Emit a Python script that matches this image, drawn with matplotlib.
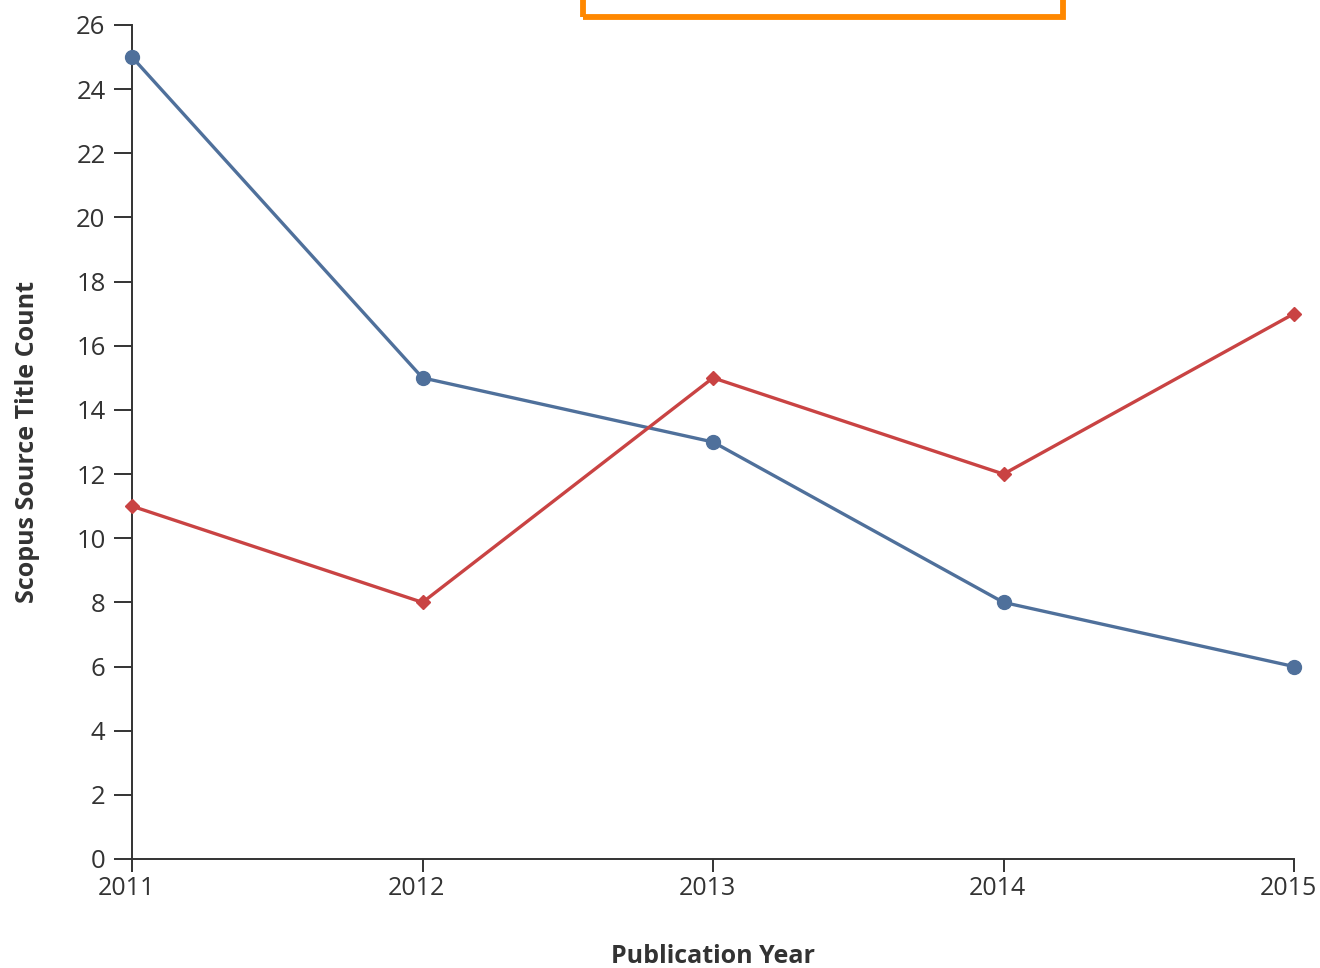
import matplotlib
matplotlib.use("Agg")
import matplotlib.pyplot as plt
import matplotlib.transforms as mtransforms
from matplotlib.patches import Rectangle

years = [2011, 2012, 2013, 2014, 2015]
blue_counts = [25, 15, 13, 8, 6]
red_counts = [11, 8, 15, 12, 17]
y_ticks = list(range(0, 27, 2))

plt.rcParams['font.family'] = ['Open Sans', 'DejaVu Sans']

W, H = 1320, 968
fig = plt.figure(figsize=(W / 100, H / 100), dpi=100)
ax = fig.add_axes([132 / W, 1 - 859 / H, (1294 - 132) / W, (859 - 25) / H])

ax.plot(years, blue_counts, color='#4f709b', lw=2.4, marker='o', ms=10,
        clip_on=False, zorder=3)
ax.plot(years, red_counts, color='#c94343', lw=2.4, marker='D', ms=7,
        clip_on=False, zorder=3)

ax.set_xlim(2011, 2015)
ax.set_ylim(0, 26)
ax.set_xticks(years)
ax.set_xticklabels([str(y) for y in years])
ax.set_yticks(y_ticks)

for s in ['top', 'right']:
    ax.spines[s].set_visible(False)
for s in ['left', 'bottom']:
    ax.spines[s].set_color('#333333')
    ax.spines[s].set_linewidth(1.4)

ax.tick_params(axis='y', length=13, width=1.4, color='#333333', pad=6,
               labelsize=18.5, labelcolor='#333333')
ax.tick_params(axis='x', length=9, width=1.4, color='#333333', pad=3,
               labelsize=18, labelcolor='#333333')

# x labels sit a little left of their ticks in the reference
shift = mtransforms.ScaledTranslation(-6 / 100, 0, fig.dpi_scale_trans)
for lab in ax.get_xticklabels():
    lab.set_transform(lab.get_transform() + shift)

ax.set_xlabel('Publication Year', fontsize=18, fontweight='bold',
              color='#333333', labelpad=31)
ax.set_ylabel('Scopus Source Title Count', fontsize=18, fontweight='bold',
              color='#333333', labelpad=26)

# legend frame sticking in from the top edge
fig.patches.append(Rectangle((583 / W, 1 - 17 / H), (1063 - 583) / W, 60 / H,
                             transform=fig.transFigure, fill=False,
                             edgecolor='#ff8800', lw=4.2))

fig.savefig('out.png', dpi=100)
